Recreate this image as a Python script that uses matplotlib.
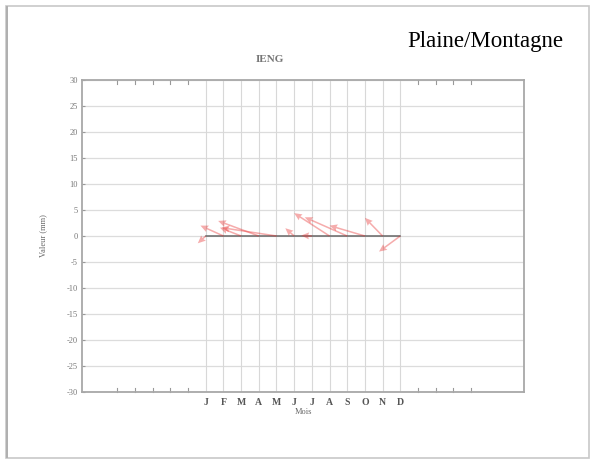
import matplotlib
matplotlib.use("Agg")
import matplotlib.pyplot as plt
from matplotlib.patches import Rectangle

# Data
months = ['J', 'F', 'M', 'A', 'M', 'J', 'J', 'A', 'S', 'O', 'N', 'D']
month_pos = list(range(1, 13))
u_vals = [-0.45, -1.3, -1.2, -2.3, -3.1, -0.5, -0.6, -2.0, -2.4, -2.0, -1.0, -1.2]
v_vals = [-1.4, 2.0, 1.6, 2.9, 1.6, 1.5, 0.1, 4.4, 3.6, 2.0, 3.5, -3.0]
y_ticks = [30, 25, 20, 15, 10, 5, 0, -5, -10, -15, -20, -25, -30]
side_ticks = [-4, -3, -2, -1, 0, 13, 14, 15, 16]

plt.rcParams['font.family'] = ['Liberation Serif', 'DejaVu Serif']

fig = plt.figure(figsize=(5.93, 4.62), dpi=100)
fig.patch.set_facecolor('white')

# outer frame
fig.patches.append(Rectangle((6/593, 4/462), 583/593, 452/462, transform=fig.transFigure,
                             fill=False, edgecolor='#c8c8c8', linewidth=1.2))
fig.patches.append(Rectangle((6/593, 4/462), 1.5/593, 452/462, transform=fig.transFigure,
                             facecolor='#b0b0b0', edgecolor='none'))

ax = fig.add_axes([82/593, 1 - 392/462, 442/593, 312/462])
ax.set_xlim(-6, 19)
ax.set_ylim(-30, 30)

# grid
for yv in y_ticks:
    ax.axhline(yv, color='#dcdcdc', linewidth=0.9, zorder=0)
for xm in month_pos:
    ax.axvline(xm, color='#d8d8d8', linewidth=0.8, zorder=0)

# baseline
ax.plot([month_pos[0], month_pos[-1]], [0, 0], color='#666666', linewidth=1.1, zorder=2)

# vectors
ax.quiver(month_pos, [0] * len(month_pos), u_vals, v_vals, angles='xy', scale_units='xy',
          scale=1, color='#e83030', alpha=0.4, width=0.0035, headwidth=4.5,
          headlength=5, headaxislength=4.5, zorder=3)

# ticks
ax.set_yticks(y_ticks)
ax.set_yticklabels([str(t) for t in y_ticks], fontsize=6, color='#777777')
ax.set_xticks(month_pos)
ax.set_xticklabels(months, fontsize=7, color='#555555', fontweight='bold')
ax.tick_params(axis='x', length=0, pad=4)
ax.tick_params(axis='y', length=2, direction='in', color='#999999', pad=3)
for xv in side_ticks:
    ax.plot([xv, xv], [30, 29.3], color='#999999', linewidth=0.8, clip_on=False)
    ax.plot([xv, xv], [-30, -29.3], color='#999999', linewidth=0.8, clip_on=False)

for sp in ax.spines.values():
    sp.set_color('#a8a8a8')
    sp.set_linewidth(1.3)

ax.set_xlabel('Mois', fontsize=6, color='#666666', labelpad=1)
ax.set_ylabel('Valeur (mm)', fontsize=6, color='#666666', labelpad=14)

fig.text(270/593, 1 - 60/462, 'IENG', fontsize=8, color='#777777', fontweight='bold',
         ha='center', va='center')
fig.text(485/593, 1 - 42/462, 'Plaine/Montagne', fontsize=16.5, color='black',
         ha='center', va='center')

fig.savefig('out.png', dpi=100, facecolor='white')
